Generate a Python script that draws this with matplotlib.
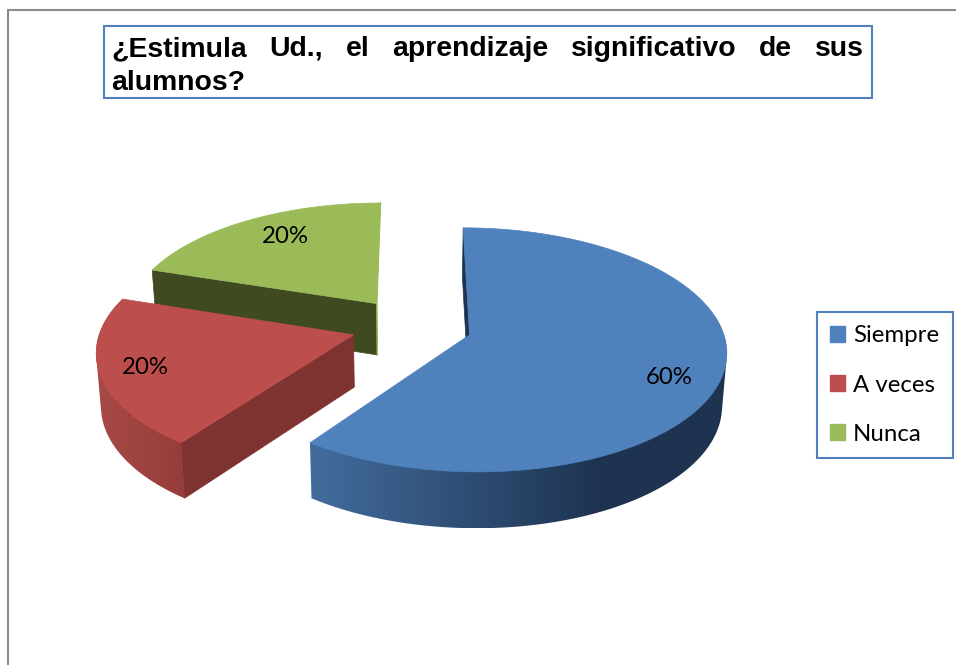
import matplotlib
matplotlib.use("Agg")
import matplotlib.pyplot as plt
import numpy as np
from matplotlib.patches import Rectangle, Polygon, Patch

categories = ["Siempre", "A veces", "Nunca"]
values = [60, 20, 20]
colors = ["#4f81bd", "#bc4f4c", "#9bbb59"]
title_line1 = "¿Estimula Ud., el aprendizaje significativo de sus"
title_line2 = "alumnos?"

# layout, in pixels of the 956x665 picture
W, H = 956, 665
CX, CY = 411.5, 326
RX, RY, PERSP = 252, 118, 0.122
EXPLODE = 0.24
label_pos = [(669, 378), (145, 368), (285, 236.5)]


def project(u, v):
    w = 1 + PERSP * v
    return CX + RX * u / w, CY - RY * v / w


def drop(x, y):
    # same point on the bottom of the slab
    return CX + (x - CX) * 0.985, y + 52 + (y - CY) * 0.03


def hull(pts):
    # convex outline of the wall, the inner side is covered by the top face anyway
    pts = sorted(map(tuple, pts))

    def half(seq):
        out = []
        for p in seq:
            while len(out) > 1 and ((out[-1][0] - out[-2][0]) * (p[1] - out[-2][1])
                                    - (out[-1][1] - out[-2][1]) * (p[0] - out[-2][0])) <= 0:
                out.pop()
            out.append(p)
        return out[:-1]

    return np.array(half(pts) + half(pts[::-1]))


def gradient_wall(ax, pts, x0, x1, c0, c1, z):
    # wall polygon filled with a left to right shade
    patch = Polygon(pts, closed=True, fc="none", ec="none", zorder=z)
    ax.add_patch(patch)
    xmin, xmax = pts[:, 0].min(), pts[:, 0].max()
    ymin, ymax = pts[:, 1].min(), pts[:, 1].max()
    xs = np.linspace(xmin, xmax, 400)
    f = np.clip((xs - x0) / (x1 - x0), 0, 1)[:, None]
    rgb = np.array(matplotlib.colors.to_rgb(c0)) * (1 - f) + np.array(matplotlib.colors.to_rgb(c1)) * f
    im = ax.imshow(rgb[None, :, :], extent=[xmin, xmax, ymax, ymin], aspect="auto",
                   interpolation="bilinear", zorder=z)
    im.set_clip_path(patch)


# wall shading for each slice: (x start, x end, colour start, colour end, radial wall colour)
shades = [
    (316, 600, "#426b9c", "#1e3350", "#1f3350"),
    (100, 185, "#a64947", "#963c3a", "#7f3331"),
    (155, 380, "#404a20", "#404a20", "#404a20"),
]

fig = plt.figure(figsize=(W / 100, H / 100), dpi=100, facecolor="white")
ax = fig.add_axes([0, 0, 1, 1])
ax.axis("off")

# outer chart frame, runs off the picture at right and bottom
ax.plot([8, 8, W], [H, 10, 10], color="#8c8c8c", lw=1.5, solid_joinstyle="miter")

# slices, back to front
ends = np.cumsum(values) / np.sum(values) * 360
starts = ends - np.array(values) / np.sum(values) * 360
for i in [2, 1, 0]:
    a, b = np.radians(starts[i]), np.radians(ends[i])
    mid = (a + b) / 2
    ou, ov = EXPLODE * np.sin(mid), EXPLODE * np.cos(mid)
    x0, x1, c0, c1, radial = shades[i]
    base_z = {0: 3.0, 1: 2.0, 2: 1.0}[i]

    t = np.linspace(a, b, 121)
    arc = np.array([project(ou + np.sin(k), ov + np.cos(k)) for k in t])
    apex = project(ou, ov)

    # outer wall, only the part turned towards the viewer
    front = arc[(t >= np.radians(80)) & (t <= np.radians(285))]
    if i != 2:
        under = np.array([drop(*p) for p in front])
        gradient_wall(ax, hull(np.vstack([front, under])), x0, x1, c0, c1, base_z)

    # radial walls
    first, last = arc[0], arc[-1]
    if i == 0:
        wall = [first, apex, drop(*apex), drop(*first)]
    else:
        wall = [apex, first, drop(*first), drop(*apex)]
    ax.add_patch(Polygon(wall, closed=True, fc=radial, ec=radial, lw=0.5, zorder=base_z + 0.1))
    if i == 2:
        edge = [last, apex, drop(*apex)]
        ax.plot(*zip(*edge), color=colors[2], lw=1.0, zorder=base_z + 0.2)

    top = np.vstack([apex, arc])
    ax.add_patch(Polygon(top, closed=True, fc=colors[i], ec=colors[i], lw=0.5, zorder=base_z + 0.3))
    ax.text(label_pos[i][0], label_pos[i][1], "%d%%" % values[i], ha="center", va="center",
            fontsize=17.3, family="Lato", color="black", zorder=6)

ax.set_xlim(0, W)
ax.set_ylim(H, 0)

# title box with justified first line
ax.add_patch(Rectangle((104, 26), 768, 72, fc="white", ec="#4f81bd", lw=1.5, zorder=5))
words = title_line1.split()
tfont = dict(fontsize=20.4, family="Liberation Sans", weight="bold", color="black", zorder=6)
items = [ax.text(0, 56, w, ha="left", va="baseline", **tfont) for w in words]
fig.canvas.draw()
rend = fig.canvas.get_renderer()
widths = [it.get_window_extent(rend).width for it in items]
gap = (864 - 111 - sum(widths)) / (len(words) - 1)
xpos = 111
for it, wd in zip(items, widths):
    it.set_x(xpos)
    xpos += wd + gap
ax.text(111, 90, title_line2, ha="left", va="baseline", **tfont)

# legend
handles = [Patch(fc=c, ec=c) for c in colors]
leg = ax.legend(handles, categories, loc="upper left",
                bbox_to_anchor=(817 / W, 1 - 312 / H), bbox_transform=fig.transFigure,
                prop={"family": "Lato", "size": 17.3}, fancybox=False, framealpha=1,
                edgecolor="#4f81bd", borderaxespad=0, borderpad=0.56, labelspacing=1.17,
                handlelength=0.62, handleheight=0.62, handletextpad=0.32)
leg.get_frame().set_linewidth(1.5)
leg.set_zorder(6)

fig.savefig("out.png", dpi=100)
